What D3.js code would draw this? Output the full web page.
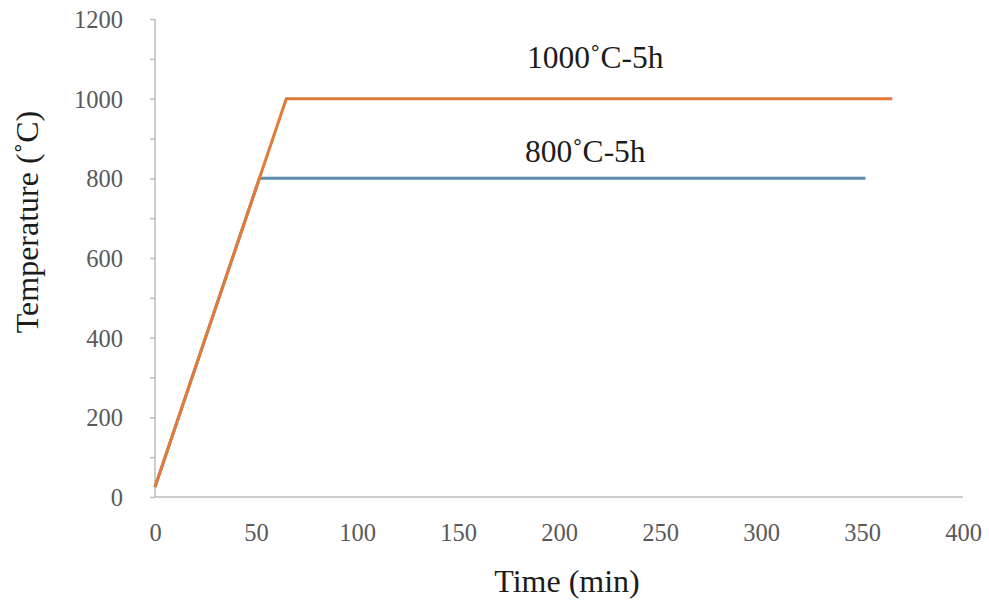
<!DOCTYPE html>
<html>
<head>
<meta charset="utf-8">
<script src="https://cdn.jsdelivr.net/npm/d3@7"></script>
<style>
  body { margin: 0; background: #fff; }
  svg { display: block; }
  text { font-family: "Liberation Serif", "Times New Roman", serif; }
</style>
</head>
<body>
<svg id="chart" width="989" height="600"></svg>
<script>
// chart values
var xTicks = [0, 50, 100, 150, 200, 250, 300, 350, 400];
var yTicks = [0, 200, 400, 600, 800, 1000, 1200];
var yMinorTicks = d3.range(0, 1201, 100);

var time1000 = [0, 65, 365];
var temp1000 = [25, 1000, 1000];
var time800 = [0, 51.7, 351.7];
var temp800 = [25, 800, 800];

var label1000 = '1000˚C-5h';
var label800 = '800˚C-5h';

(function() {
  'use strict';

  var colors = { orange: '#E27A3A', blue: '#5E8DA8', axis: '#BDBDBD', tick: '#595959', title: '#1c1c1c' };

  var svg = d3.select('#chart');

  var x = d3.scaleLinear().domain([0, 400]).range([155, 963]);
  var y = d3.scaleLinear().domain([0, 1200]).range([497, 19]);

  // y axis with a small tick every 100
  var yAxis = d3.axisLeft(y)
    .tickValues(yMinorTicks)
    .tickSize(5)
    .tickFormat(function(d) { return yTicks.indexOf(d) >= 0 ? d : ''; })
    .tickPadding(27);

  var yG = svg.append('g')
    .attr('transform', 'translate(' + x(0) + ',0)')
    .call(yAxis);
  yG.select('.domain').attr('stroke', colors.axis).attr('stroke-width', 1.5)
    .attr('d', 'M0,' + y(1200) + 'V' + y(0));
  yG.selectAll('.tick line').attr('stroke', colors.axis).attr('stroke-width', 1.5);
  yG.selectAll('.tick text')
    .attr('fill', colors.tick)
    .style('font-size', '24.5px')
    .attr('dy', '0.35em');

  // x axis has no tick marks
  var xAxis = d3.axisBottom(x)
    .tickValues(xTicks)
    .tickSize(0)
    .tickPadding(27);

  var xG = svg.append('g')
    .attr('transform', 'translate(0,' + y(0) + ')')
    .call(xAxis);
  xG.select('.domain').attr('stroke', colors.axis).attr('stroke-width', 1.5)
    .attr('d', 'M' + x(0) + ',0H' + x(400));
  xG.selectAll('.tick text')
    .attr('fill', colors.tick)
    .style('font-size', '24.5px');

  var line = d3.line()
    .x(function(d) { return x(d[0]); })
    .y(function(d) { return y(d[1]); });

  var series = [
    { time: time800, temp: temp800, color: colors.blue },
    { time: time1000, temp: temp1000, color: colors.orange }
  ];

  series.forEach(function(s) {
    var pts = s.time.map(function(t, i) { return [t, s.temp[i]]; });
    svg.append('path')
      .datum(pts)
      .attr('d', line)
      .attr('fill', 'none')
      .attr('stroke', s.color)
      .attr('stroke-width', 3)
      .attr('stroke-linejoin', 'miter');
  });

  // annotations over the plateaus
  svg.append('text')
    .attr('x', x(218))
    .attr('y', y(1000) - 31)
    .attr('text-anchor', 'middle')
    .attr('fill', colors.title)
    .style('font-size', '31.5px')
    .text(label1000);

  svg.append('text')
    .attr('x', x(213))
    .attr('y', y(800) - 16)
    .attr('text-anchor', 'middle')
    .attr('fill', colors.title)
    .style('font-size', '31.5px')
    .text(label800);

  // axis titles
  svg.append('text')
    .attr('x', 567)
    .attr('y', 592)
    .attr('text-anchor', 'middle')
    .attr('fill', colors.title)
    .style('font-size', '32px')
    .text('Time (min)');

  svg.append('text')
    .attr('transform', 'translate(38,222) rotate(-90)')
    .attr('text-anchor', 'middle')
    .attr('fill', colors.title)
    .style('font-size', '32px')
    .text('Temperature (˚C)');
})();
</script>
</body>
</html>
